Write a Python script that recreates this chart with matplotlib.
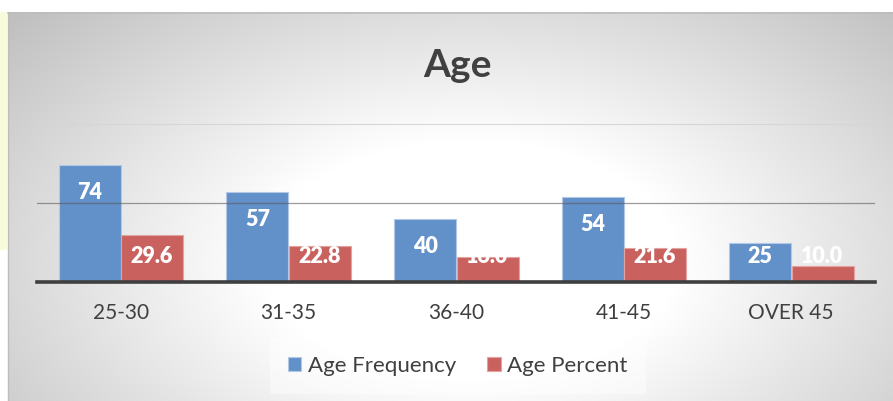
import numpy as np
import matplotlib
matplotlib.use('Agg')
import matplotlib.pyplot as plt
from matplotlib.patches import Rectangle

# age groups
categories = ['25-30', '31-35', '36-40', '41-45', 'OVER 45']
freq = [74, 57, 40, 54, 25]
pct = [29.6, 22.8, 16.0, 21.6, 10.0]

plt.rcParams['font.family'] = ['Lato', 'DejaVu Sans']

W, H = 893, 401
fig = plt.figure(figsize=(W / 100, H / 100), dpi=100)
fig.patch.set_facecolor('white')

# radial gray gradient behind the chart
bw, bh = W - 8, H - 12
yy, xx = np.mgrid[0:bh, 0:bw]
px = xx + 8
py = yy + 12
d = np.sqrt(((px - 470) / 520.0) ** 2 + ((py - 260) / 300.0) ** 2)
v = 1 - 0.25 * np.clip((d - 0.4) / 0.8, 0, 1)
img = np.dstack([v, v, v])
bg = fig.add_axes([8 / W, 0, bw / W, bh / H], zorder=-2)
bg.imshow(img, aspect='auto', interpolation='bilinear')
bg.axis('off')

# frame edges and the yellow strip on the left
fig.add_artist(plt.Line2D([8 / W, 1], [1 - 12.5 / H] * 2, color='#bdbdbd', lw=1.2))
fig.add_artist(plt.Line2D([8 / W] * 2, [0, 1 - 12 / H], color='#bdbdbd', lw=1.0))
fig.add_artist(Rectangle((0, 1 - 250 / H), 7 / W, 238 / H, transform=fig.transFigure,
                         facecolor='#f8fcdc', edgecolor='none'))

ax = fig.add_axes([37 / W, (H - 282) / H, (875 - 37) / W, (282 - 124) / H])
ax.patch.set_alpha(0)
x = np.arange(len(categories))
w = 0.37
b1 = ax.bar(x - w / 2, freq, w, color='#6290c8', edgecolor='#b3c8e6', linewidth=0.8,
            label='Age Frequency', zorder=2)
b2 = ax.bar(x + w / 2 + 0.004, pct, w, color='#c9625f', edgecolor='#e3a3a1', linewidth=0.8,
            label='Age Percent', zorder=2)

ax.set_xlim(-0.5, len(categories) - 0.5)
ax.set_ylim(0, 100)
for s in ax.spines.values():
    s.set_visible(False)
ax.set_yticks([])
ax.axhline(100, color='#d6d6d6', lw=0.8, zorder=1, clip_on=False)
ax.axhline(50, color='#5a5a5a', lw=0.9, alpha=0.6, zorder=3)
ax.axhline(0, color='#3f3f3f', lw=2.6, zorder=4, clip_on=False)

ax.set_xticks(x)
ax.set_xticklabels(categories, fontsize=15, color='#404040')
ax.tick_params(axis='x', length=0, pad=15)

# value labels inside the bar tops
for xs, vals, fmt in [(x - w / 2, freq, '{:d}'), (x + w / 2, pct, '{:.1f}')]:
    for xi, val in zip(xs, vals):
        ax.text(xi, max(val - 17.3, 16.2), fmt.format(val), ha='center', va='center',
                color='white', fontsize=15.5, fontweight='heavy', zorder=5)

fig.text(457 / W, (H - 77) / H, 'Age', ha='center', va='baseline',
         fontsize=28, fontweight='bold', color='#404040')

leg = fig.legend(handles=[b1, b2], loc='center', bbox_to_anchor=(458 / W, (H - 366) / H),
                 ncol=2, frameon=True, fontsize=16, handlelength=0.6, handleheight=0.6,
                 handletextpad=0.3, columnspacing=1.4, borderpad=0.8, labelcolor='#404040')
leg.get_frame().set_facecolor('white')
leg.get_frame().set_alpha(0.45)
leg.get_frame().set_edgecolor('none')
leg.get_frame().set_boxstyle('square', pad=0)

fig.savefig('out.png', dpi=100)
